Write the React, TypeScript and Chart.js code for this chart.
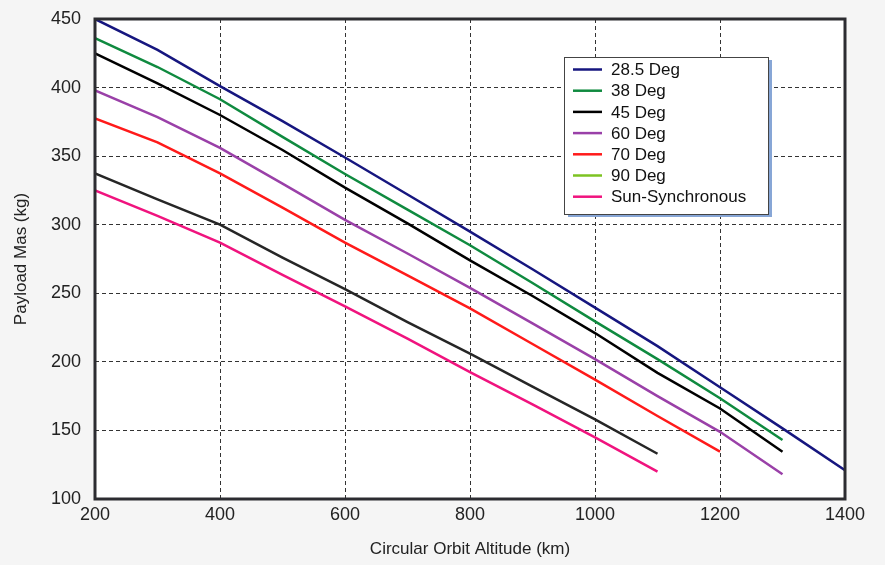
import { useEffect, useRef } from 'react';
import { Chart, registerables } from 'chart.js';

Chart.register(...registerables);

const altitudes = [200, 300, 400, 500, 600, 700, 800, 900, 1000, 1100, 1200, 1300, 1400];

const seriesNames = ['28.5 Deg', '38 Deg', '45 Deg', '60 Deg', '70 Deg', '90 Deg', 'Sun-Synchronous'];

const deg285 = [450, 427.5, 401, 375.5, 349, 322, 295, 267.5, 239.5, 211.5, 181.5, 151.5, 121];
const deg38 = [436, 415, 391.5, 364, 337, 311, 285, 257.5, 229.5, 202, 173.5, 143];
const deg45 = [425, 403, 380, 354.5, 327, 301, 274, 248, 221, 192, 166, 134.5];
const deg60 = [398, 378.5, 356, 330, 303.5, 279, 254, 228, 202, 175, 149, 118];
const deg70 = [377.5, 360, 337.5, 312.5, 287, 263, 239, 213, 187, 160.5, 134.5];
const deg90 = [337.5, 318.5, 300, 276, 253, 229, 206, 182, 158, 133];
const sunSync = [325, 306.5, 287, 263.5, 240.5, 217, 192.5, 169, 145, 120];

const seriesValues = [deg285, deg38, deg45, deg60, deg70, deg90, sunSync];
const lineColors = ['#16167f', '#0f8a3f', '#000000', '#9a40a8', '#ff1a1a', '#262626', '#f0137e'];
const legendColors = ['#16167f', '#0f8a3f', '#000000', '#9a40a8', '#ff1a1a', '#7dc322', '#f0137e'];

const yTicks = [100, 150, 200, 250, 300, 350, 400, 450];
const xTicks = [200, 400, 600, 800, 1000, 1200, 1400];

const xTitle = 'Circular Orbit Altitude (km)';
const yTitle = 'Payload Mas (kg)';

const FONT = "'Liberation Sans', Arial, sans-serif";

const areaPlugin = {
  id: 'areaPlugin',
  beforeDraw(chart: any) {
    const { ctx, chartArea } = chart;
    ctx.save();
    ctx.fillStyle = '#ffffff';
    ctx.fillRect(chartArea.left, chartArea.top, chartArea.right - chartArea.left, chartArea.bottom - chartArea.top);
    ctx.restore();
  },
  afterDraw(chart: any) {
    const { ctx, chartArea } = chart;
    ctx.save();
    // frame
    ctx.strokeStyle = '#2c2c31';
    ctx.lineWidth = 3;
    ctx.strokeRect(chartArea.left, chartArea.top, chartArea.right - chartArea.left, chartArea.bottom - chartArea.top);

    // legend box
    const bx = 564, by = 57, bw = 204, bh = 157;
    ctx.fillStyle = '#87a6d6';
    ctx.fillRect(bx + 4, by + 3, bw, bh);
    ctx.fillStyle = '#ffffff';
    ctx.fillRect(bx, by, bw, bh);
    ctx.strokeStyle = '#444444';
    ctx.lineWidth = 1;
    ctx.strokeRect(bx + 0.5, by + 0.5, bw, bh);
    ctx.font = `17px ${FONT}`;
    ctx.textBaseline = 'middle';
    ctx.textAlign = 'left';
    seriesNames.forEach((name, i) => {
      const cy = 69.5 + i * 21.2;
      ctx.strokeStyle = legendColors[i];
      ctx.lineWidth = 2.5;
      ctx.beginPath();
      ctx.moveTo(573, cy);
      ctx.lineTo(602, cy);
      ctx.stroke();
      ctx.fillStyle = '#111111';
      ctx.fillText(name, 611, cy + 1);
    });
    ctx.restore();
  },
};

export default function App() {
  const canvasRef = useRef<HTMLCanvasElement | null>(null);

  useEffect(() => {
    if (!canvasRef.current) return;
    const datasets = seriesNames.map((name, i) => ({
      label: name,
      data: seriesValues[i].map((v, j) => ({ x: altitudes[j], y: v })),
      borderColor: lineColors[i],
      backgroundColor: lineColors[i],
      borderWidth: 2.5,
      pointRadius: 0,
      tension: 0,
      fill: false,
    }));
    const chart = new Chart(canvasRef.current, {
      type: 'line',
      data: { datasets },
      options: {
        animation: false,
        responsive: false,
        layout: { padding: { top: 19, right: 40, left: 0, bottom: 0 } },
        plugins: {
          legend: { display: false },
          tooltip: { enabled: false },
        },
        scales: {
          x: {
            type: 'linear',
            min: 200,
            max: 1400,
            afterBuildTicks: (scale: any) => {
              scale.ticks = xTicks.map((v) => ({ value: v }));
            },
            afterFit: (scale: any) => {
              scale.height = 66;
              scale.paddingLeft = 0;
              scale.paddingRight = 0;
            },
            ticks: {
              padding: 5,
              color: '#222222',
              font: { family: FONT, size: 18 },
              maxRotation: 0,
              callback: (v: any) => String(v),
            },
            grid: {
              color: '#333333',
              lineWidth: 1,
              drawTicks: false,
            },
            border: { display: false, dash: [4, 3] },
            title: {
              display: true,
              text: xTitle,
              color: '#222222',
              font: { family: FONT, size: 17 },
              padding: { top: 0, bottom: 5 },
            },
          },
          y: {
            type: 'linear',
            min: 100,
            max: 450,
            afterBuildTicks: (scale: any) => {
              scale.ticks = yTicks.map((v) => ({ value: v }));
            },
            afterFit: (scale: any) => {
              scale.width = 95;
              scale.paddingTop = 0;
              scale.paddingBottom = 0;
            },
            ticks: {
              padding: 14,
              color: '#222222',
              font: { family: FONT, size: 18 },
              callback: (v: any) => String(v),
            },
            grid: {
              color: '#333333',
              lineWidth: 1,
              drawTicks: false,
            },
            border: { display: false, dash: [4, 3] },
            title: {
              display: true,
              text: yTitle,
              color: '#222222',
              font: { family: FONT, size: 17 },
              padding: { top: 11, bottom: 0 },
            },
          },
        },
      } as any,
      plugins: [areaPlugin],
    });
    return () => chart.destroy();
  }, []);

  return (
    <div style={{ position: 'fixed', left: 0, top: 0, width: 885, height: 565, background: '#f5f5f5' }}>
      <canvas ref={canvasRef} width={885} height={565} style={{ display: 'block', width: 885, height: 565 }} />
    </div>
  );
}
